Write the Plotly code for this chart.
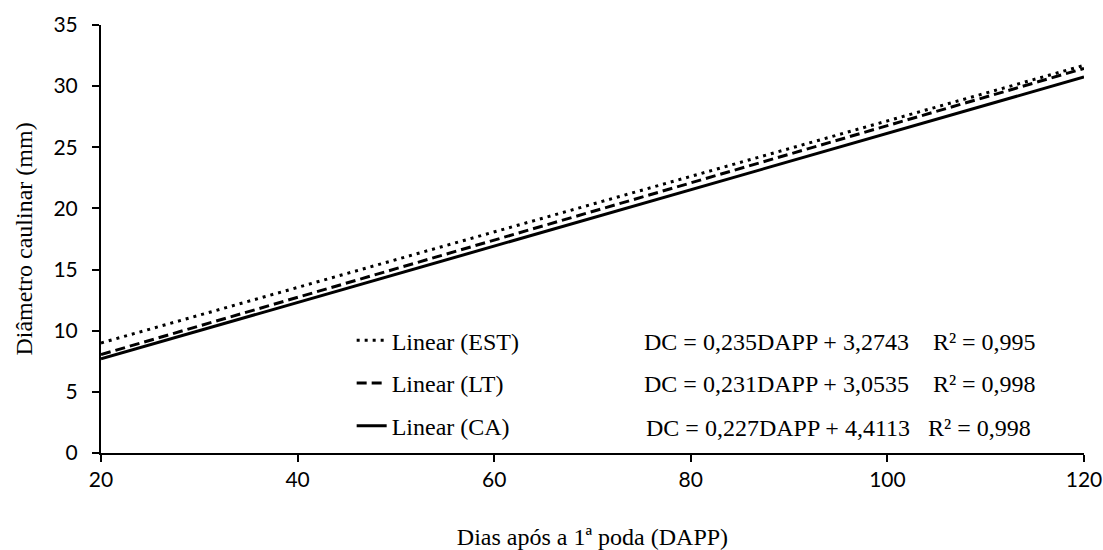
import plotly.graph_objects as go

# Data
dapp = [20, 120]
est = [9.0, 31.7]
lt = [8.05, 31.45]
ca = [7.7, 30.75]

series_names = ["Linear (EST)", "Linear (LT)", "Linear (CA)"]
series_values = [est, lt, ca]
series_dash = ["3px,5px", "10px,5px", "solid"]
series_width = [3, 3, 3]

equations = [
    "DC = 0,235DAPP + 3,2743    R² = 0,995",
    "DC = 0,231DAPP + 3,0535    R² = 0,998",
    "DC = 0,227DAPP + 4,4113   R² = 0,998",
]

y_ticks = [0, 5, 10, 15, 20, 25, 30, 35]
x_ticks = [20, 40, 60, 80, 100, 120]

fig = go.Figure()
for i, (name, vals, dash, w) in enumerate(zip(series_names, series_values, series_dash, series_width)):
    fig.add_trace(go.Scatter(
        x=dapp, y=vals, mode="lines", name=name,
        legendgroup=f"g{i}",
        line=dict(color="black", dash=dash, width=w),
    ))

serif = "Liberation Serif, Times New Roman, serif"
tickfont = dict(family="Lato, Carlito, Calibri, sans-serif", size=21, color="black")

# equation annotations, aligned with legend rows
eq_x = [0.5504, 0.5504, 0.5525]
eq_y = [0.2587, 0.1605, 0.0589]
for txt, xx, yy in zip(equations, eq_x, eq_y):
    fig.add_annotation(x=xx, y=yy, xref="paper", yref="paper", text=txt,
                       showarrow=False, xanchor="left", yanchor="middle",
                       font=dict(family=serif, size=24, color="black"))

fig.update_layout(
    width=1103, height=550,
    margin=dict(l=101, r=19, t=25, b=97, autoexpand=False),
    plot_bgcolor="white", paper_bgcolor="white",
    showlegend=True,
    legend=dict(
        x=0.255, y=0.315, xanchor="left", yanchor="top",
        font=dict(family=serif, size=24, color="black"),
        bgcolor="rgba(0,0,0,0)", tracegroupgap=8.5,
        traceorder="grouped",
    ),
    xaxis=dict(
        range=[20, 120], tickvals=x_ticks, showgrid=False, zeroline=False,
        showline=True, linecolor="black", linewidth=1.5,
        ticks="outside", ticklen=7, tickwidth=1.5, tickcolor="black",
        tickfont=tickfont, automargin=False,
        title=dict(text="Dias após a 1ª poda (DAPP)",
                   font=dict(family=serif, size=24, color="black"), standoff=41),
    ),
    yaxis=dict(
        range=[0, 35], tickvals=y_ticks, showgrid=False, zeroline=False,
        showline=True, linecolor="black", linewidth=2,
        ticks="outside", ticklen=7, tickwidth=1.5, tickcolor="black",
        tickfont=tickfont, ticklabelstandoff=10, automargin=False,
        title=dict(text="Diâmetro caulinar (mm)",
                   font=dict(family=serif, size=24, color="black"), standoff=14),
    ),
)

fig.write_html("out.html")
